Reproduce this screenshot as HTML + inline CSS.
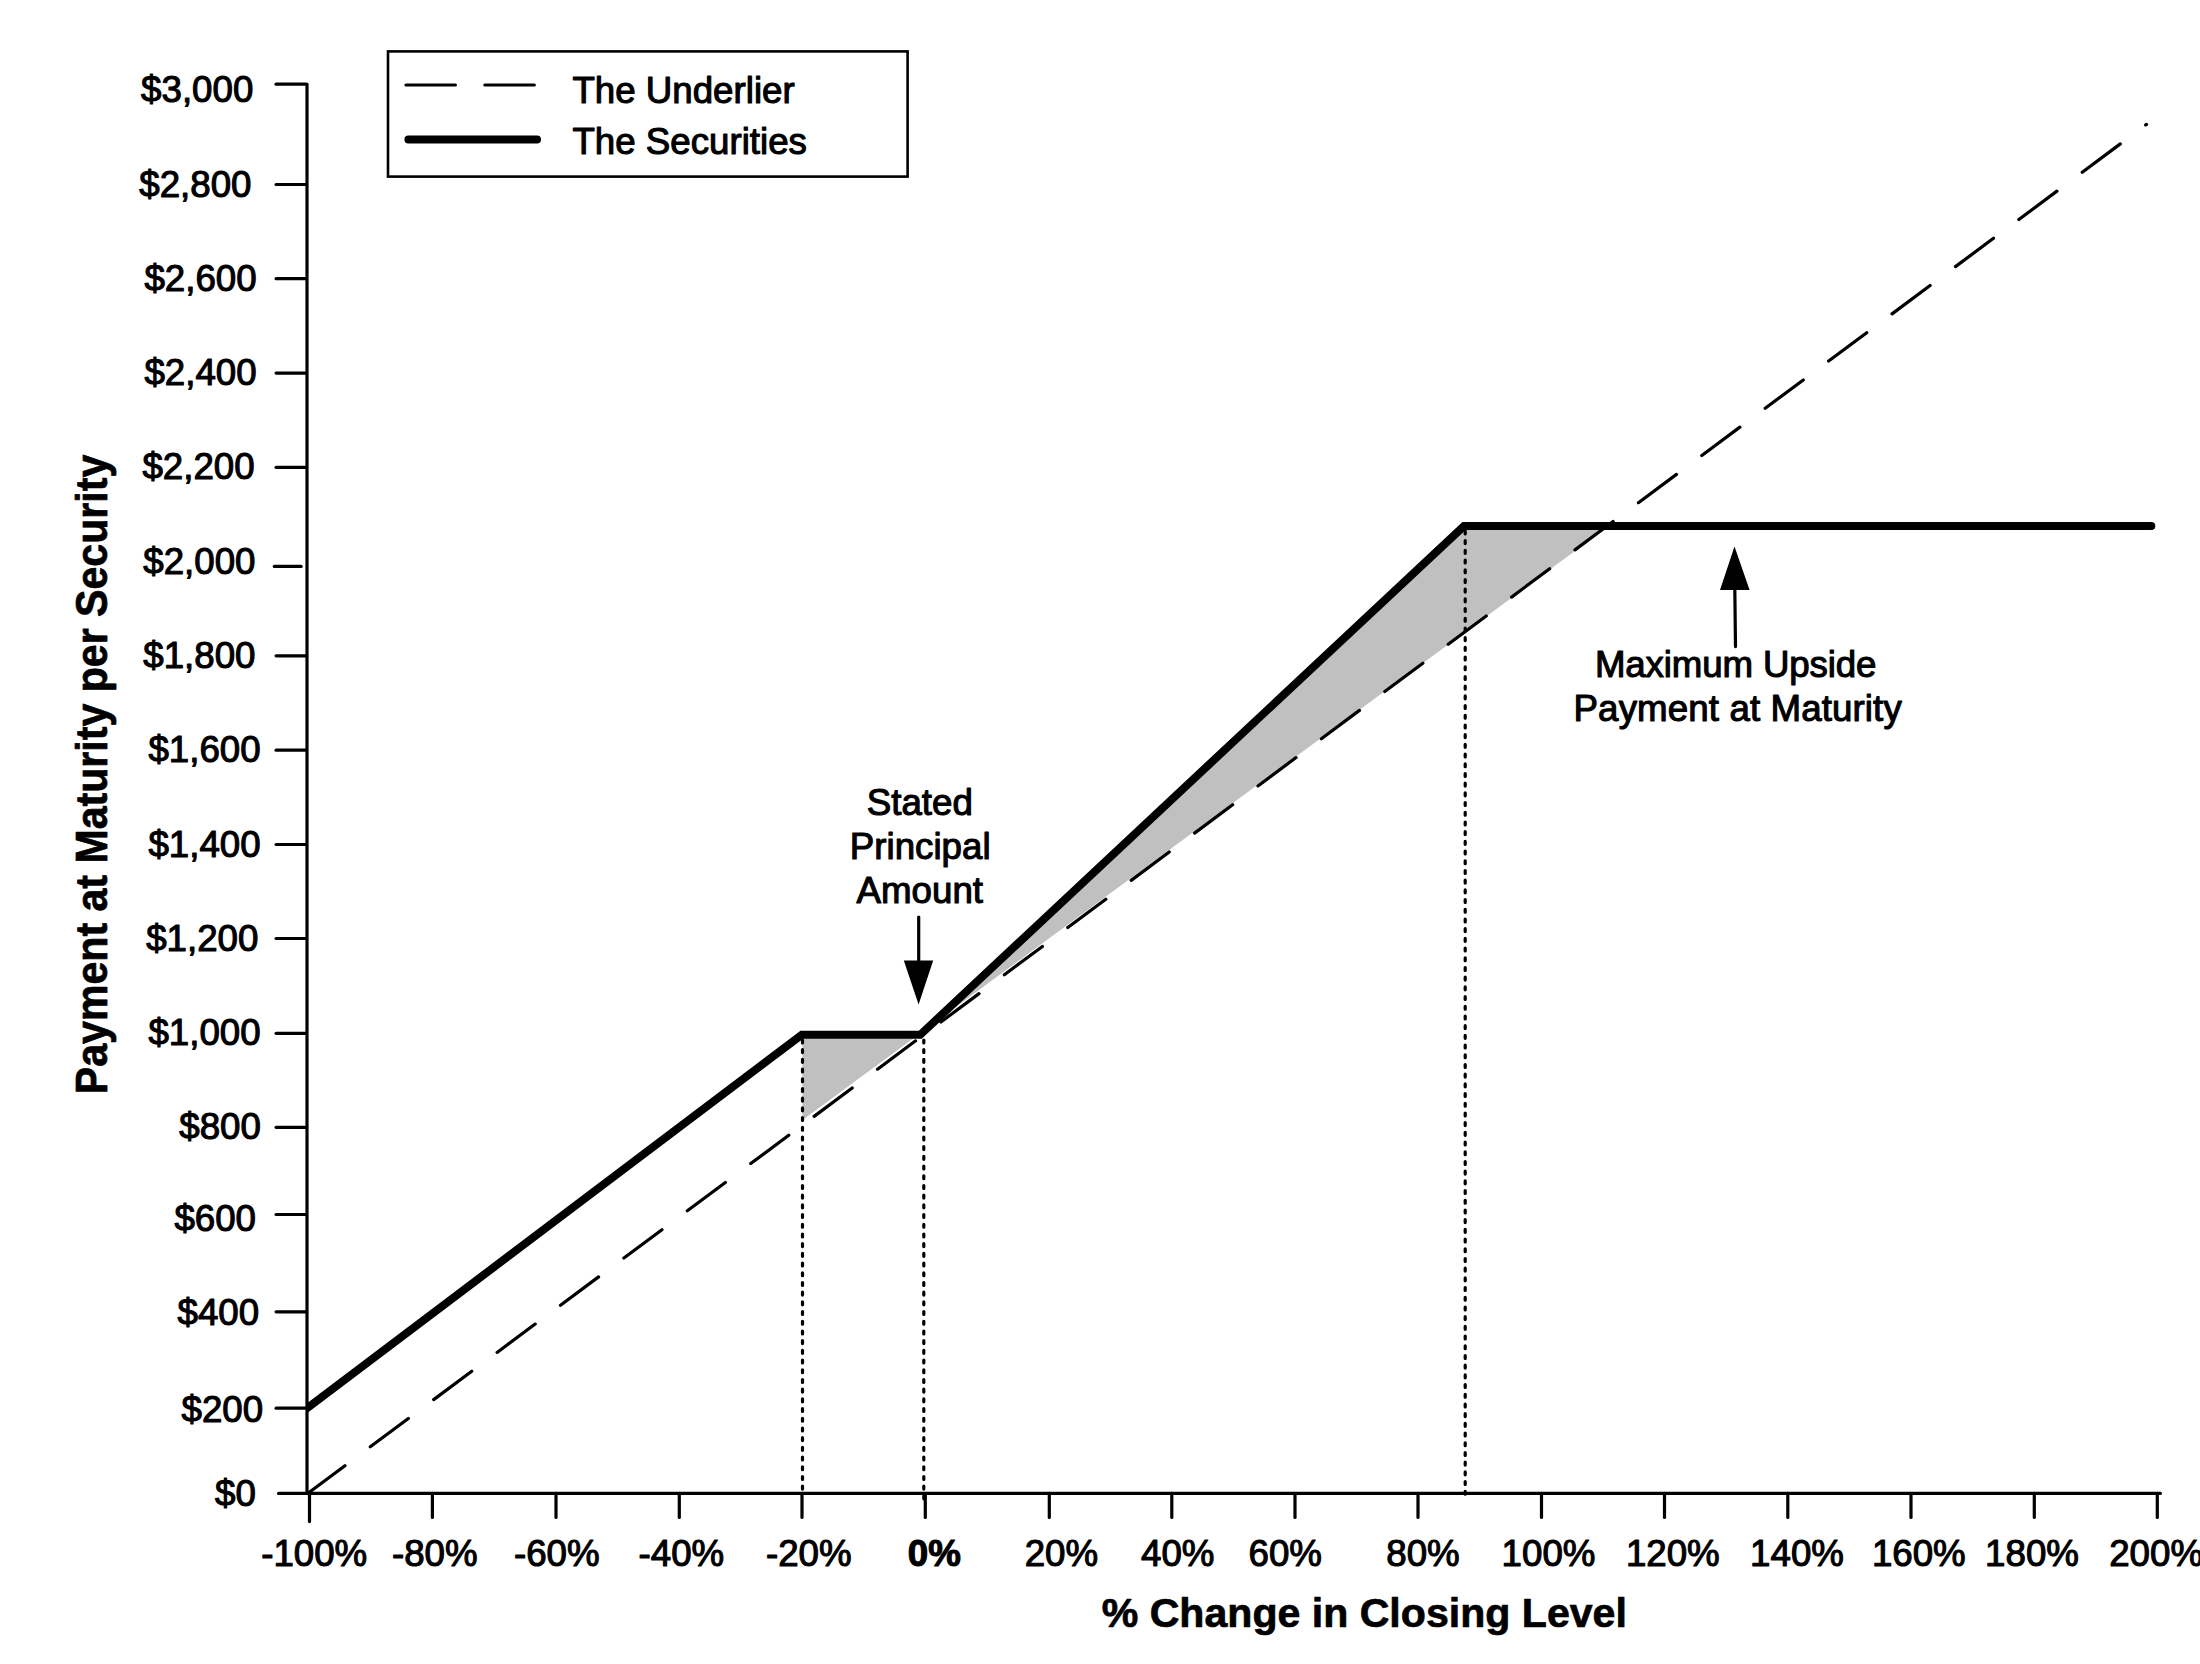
<!DOCTYPE html>
<html lang="en"><head><meta charset="utf-8"><title>Payment at Maturity per Security</title>
<style>html,body{margin:0;padding:0;background:#fff}body{width:2200px;height:1664px;overflow:hidden}svg{display:block}text{font-family:"Liberation Sans",Arial,Helvetica,sans-serif;fill:#000;stroke:#000;stroke-width:1.1px;stroke-linejoin:round}.t{font-size:36.7px}.b{font-size:41.1px;font-weight:bold;stroke-width:0.7px}.ln{stroke:#000;stroke-width:3.2;stroke-linecap:round;fill:none}</style></head><body>
<svg width="2200" height="1664" viewBox="0 0 2200 1664">
<rect x="0" y="0" width="2200" height="1664" fill="#fff"/>
<polygon points="802.5,1035 920.2,1035 1464,526 1607,526 1603.6,530 802.5,1120" fill="#c0c0c0"/>
<line class="ln" x1="802.5" y1="1040" x2="802.5" y2="1491" stroke-dasharray="2.9 6.8"/>
<line class="ln" x1="923.8" y1="1040" x2="923.8" y2="1499" stroke-dasharray="2.9 6.8"/>
<line class="ln" x1="1465.2" y1="531" x2="1465.2" y2="1496" stroke-dasharray="2.9 6.8"/>
<path class="ln" d="M307,84.2 L307,1493.4"/>
<path class="ln" d="M278.6,1493.4 L2160.4,1493.4"/>
<line class="ln" x1="276.1" y1="84.2" x2="305.6" y2="84.2"/>
<line class="ln" x1="276.1" y1="184.5" x2="305.6" y2="184.5"/>
<line class="ln" x1="276.1" y1="278.7" x2="305.6" y2="278.7"/>
<line class="ln" x1="276.1" y1="373.1" x2="305.6" y2="373.1"/>
<line class="ln" x1="276.1" y1="467.3" x2="305.6" y2="467.3"/>
<line class="ln" x1="274.3" y1="566.4" x2="301.1" y2="566.4"/>
<line class="ln" x1="276.1" y1="655.8" x2="305.6" y2="655.8"/>
<line class="ln" x1="276.1" y1="750.2" x2="305.6" y2="750.2"/>
<line class="ln" x1="276.1" y1="844.5" x2="305.6" y2="844.5"/>
<line class="ln" x1="276.1" y1="938.5" x2="305.6" y2="938.5"/>
<line class="ln" x1="276.1" y1="1033.3" x2="305.6" y2="1033.3"/>
<line class="ln" x1="276.1" y1="1127.3" x2="305.6" y2="1127.3"/>
<line class="ln" x1="276.1" y1="1214.5" x2="305.6" y2="1214.5"/>
<line class="ln" x1="276.1" y1="1311.8" x2="305.6" y2="1311.8"/>
<line class="ln" x1="276.1" y1="1408.2" x2="305.6" y2="1408.2"/>
<line class="ln" x1="309.5" y1="1493.4" x2="309.5" y2="1521.6"/>
<line class="ln" x1="432.4" y1="1493.4" x2="432.4" y2="1517.4"/>
<line class="ln" x1="556" y1="1493.4" x2="556" y2="1517.4"/>
<line class="ln" x1="679.3" y1="1493.4" x2="679.3" y2="1517.4"/>
<line class="ln" x1="802" y1="1493.4" x2="802" y2="1517.4"/>
<line class="ln" x1="925.3" y1="1493.4" x2="925.3" y2="1517.4"/>
<line class="ln" x1="1049.3" y1="1493.4" x2="1049.3" y2="1517.4"/>
<line class="ln" x1="1171.8" y1="1493.4" x2="1171.8" y2="1517.4"/>
<line class="ln" x1="1295" y1="1493.4" x2="1295" y2="1517.4"/>
<line class="ln" x1="1418" y1="1493.4" x2="1418" y2="1517.4"/>
<line class="ln" x1="1541.5" y1="1493.4" x2="1541.5" y2="1517.4"/>
<line class="ln" x1="1664.5" y1="1493.4" x2="1664.5" y2="1517.4"/>
<line class="ln" x1="1787.8" y1="1493.4" x2="1787.8" y2="1517.4"/>
<line class="ln" x1="1911" y1="1493.4" x2="1911" y2="1517.4"/>
<line class="ln" x1="2034.3" y1="1493.4" x2="2034.3" y2="1517.4"/>
<line class="ln" x1="2157.3" y1="1493.4" x2="2157.3" y2="1517.4"/>
<line class="ln" x1="307.6" y1="1493.5" x2="2146.5" y2="124.4" stroke-dasharray="47.45 31.6" stroke-dashoffset="0.9"/>
<clipPath id="c"><rect x="306" y="0" width="1900" height="1664"/></clipPath>
<path clip-path="url(#c)" d="M300,1413.5 L801.8,1034.8 L920.2,1034.8 L1464,526 L2151.3,526" fill="none" stroke="#000" stroke-width="8.0" stroke-linecap="round" stroke-linejoin="miter"/>
<text class="t" x="141.1" y="101.8">$3,000</text>
<text class="t" x="139.3" y="196.7">$2,800</text>
<text class="t" x="144.4" y="290.9">$2,600</text>
<text class="t" x="144.4" y="384.9">$2,400</text>
<text class="t" x="142.4" y="479.1">$2,200</text>
<text class="t" x="143.3" y="574">$2,000</text>
<text class="t" x="143.3" y="667.6">$1,800</text>
<text class="t" x="148.4" y="761.8">$1,600</text>
<text class="t" x="148.4" y="856.7">$1,400</text>
<text class="t" x="146.2" y="950.5">$1,200</text>
<text class="t" x="148.4" y="1044.5">$1,000</text>
<text class="t" x="179.3" y="1138.5">$800</text>
<text class="t" x="174.4" y="1230.9">$600</text>
<text class="t" x="177.5" y="1324.9">$400</text>
<text class="t" x="181.5" y="1421.8">$200</text>
<text class="t" x="215.1" y="1505.8">$0</text>
<text class="t" x="261.2" y="1565.5">-100%</text>
<text class="t" x="392.0" y="1565.5">-80%</text>
<text class="t" x="514.0" y="1565.5">-60%</text>
<text class="t" x="638.6" y="1565.5">-40%</text>
<text class="t" x="766.0" y="1565.5">-20%</text>
<text class="t" x="907.8" y="1565.5" font-weight="bold">0%</text>
<text class="t" x="1024.7" y="1565.5">20%</text>
<text class="t" x="1141.0" y="1565.5">40%</text>
<text class="t" x="1248.5" y="1565.5">60%</text>
<text class="t" x="1386.3" y="1565.5">80%</text>
<text class="t" x="1501.6" y="1565.5">100%</text>
<text class="t" x="1625.9" y="1565.5">120%</text>
<text class="t" x="1750.1" y="1565.5">140%</text>
<text class="t" x="1871.9" y="1565.5">160%</text>
<text class="t" x="1985.1" y="1565.5">180%</text>
<text class="t" x="2109.2" y="1565.5">200%</text>
<text class="b" x="1101.7" y="1627">% Change in Closing Level</text>
<text class="b" transform="translate(107,1094.2) rotate(-90) scale(1,1.06)" x="0" y="0">Payment at Maturity per Security</text>
<rect x="388" y="51.4" width="519.6" height="125.2" fill="#fff" stroke="#000" stroke-width="2.6"/>
<line class="ln" x1="406" y1="85" x2="536" y2="85" stroke-dasharray="49.4 29.5"/>
<line x1="408.4" y1="139.4" x2="537" y2="139.4" stroke="#000" stroke-width="8.0" stroke-linecap="round"/>
<text class="t" x="572.4" y="102.5">The Underlier</text>
<text class="t" x="572.4" y="153.7">The Securities</text>
<text class="t" text-anchor="middle" x="919.8" y="814.5">Stated</text>
<text class="t" text-anchor="middle" x="920.2" y="858.7">Principal</text>
<text class="t" text-anchor="middle" x="919.8" y="902.7">Amount</text>
<line class="ln" x1="918.7" y1="917" x2="918.7" y2="962"/>
<polygon points="903.8,960.5 933.2,960.5 918.6,1004.5" fill="#000"/>
<text class="t" text-anchor="middle" x="1735.6" y="676.7" letter-spacing="-0.14">Maximum Upside</text>
<text class="t" text-anchor="middle" x="1737.7" y="720.9" letter-spacing="0.11">Payment at Maturity</text>
<line class="ln" x1="1734.8" y1="588" x2="1735.5" y2="646.6"/>
<polygon points="1720,590 1749.6,590 1734.5,546.4" fill="#000"/>
</svg></body></html>
